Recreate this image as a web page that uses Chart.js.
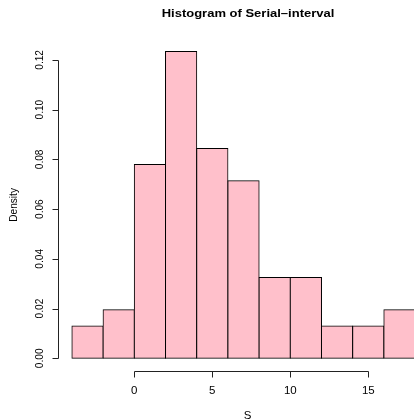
<!DOCTYPE html>
<html>
<head>
<meta charset="utf-8">
<script src="https://cdn.jsdelivr.net/npm/chart.js@4/dist/chart.umd.min.js"></script>
<style>
  html, body { margin: 0; padding: 0; background: #fff; overflow: hidden; width: 414px; height: 420px; }
  #wrap { width: 414px; height: 420px; overflow: hidden; position: relative; }
  canvas { display: block; }
</style>
</head>
<body>
<div id="wrap"><canvas id="c" width="440" height="420"></canvas></div>
<script>
// ---- data ----
const titleText = "Histogram of Serial\u2013interval";
const xLabel = "S";
const yLabel = "Density";
const binCenters = [-3, -1, 1, 3, 5, 7, 9, 11, 13, 15, 17];
const densities = [0.0130, 0.0195, 0.0779, 0.1234, 0.0844, 0.0714, 0.0325, 0.0325, 0.0130, 0.0130, 0.0195];
const xTicks = [0, 5, 10, 15];
const yTicks = [0, 0.02, 0.04, 0.06, 0.08, 0.10, 0.12];
const yTickLabels = ["0.00", "0.02", "0.04", "0.06", "0.08", "0.10", "0.12"];

const SY = 0.88; // slight vertical text squash seen in reference
const FONT = '"Liberation Sans", Arial, Helvetica, sans-serif';

function drawText(ctx, txt, x, y, font, rotate) {
  ctx.save();
  ctx.translate(x, y);
  ctx.scale(1, SY);
  if (rotate) ctx.rotate(-Math.PI / 2);
  ctx.font = font;
  ctx.fillStyle = '#000';
  ctx.textAlign = 'center';
  ctx.textBaseline = 'middle';
  ctx.fillText(txt, 0, 0);
  ctx.restore();
}

const rAxes = {
  id: 'rAxes',
  afterDraw(chart) {
    const ctx = chart.ctx;
    const xs = chart.scales.x, ys = chart.scales.y;
    const ca = chart.chartArea;
    ctx.save();
    ctx.strokeStyle = '#222';
    ctx.lineWidth = 1;
    // x axis
    const ax = Math.round(ca.bottom) + 0.5;
    const x0 = xs.getPixelForValue(xTicks[0]);
    const x1 = xs.getPixelForValue(xTicks[xTicks.length - 1]);
    ctx.beginPath();
    ctx.moveTo(Math.round(x0) + 0.5, ax);
    ctx.lineTo(Math.round(x1) + 0.5, ax);
    xTicks.forEach(v => {
      const px = Math.round(xs.getPixelForValue(v)) + 0.5;
      ctx.moveTo(px, ax);
      ctx.lineTo(px, ax + 6);
    });
    ctx.stroke();
    xTicks.forEach(v => {
      drawText(ctx, String(v), xs.getPixelForValue(v), 391, '11.5px ' + FONT, false);
    });
    // y axis
    const ay = Math.round(ca.left) + 0.5;
    const y0 = ys.getPixelForValue(yTicks[0]);
    const y1 = ys.getPixelForValue(yTicks[yTicks.length - 1]);
    ctx.beginPath();
    ctx.moveTo(ay, Math.round(y0) + 0.5);
    ctx.lineTo(ay, Math.round(y1) + 0.5);
    yTicks.forEach(v => {
      const py = Math.round(ys.getPixelForValue(v)) + 0.5;
      ctx.moveTo(ay, py);
      ctx.lineTo(ay - 6, py);
    });
    ctx.stroke();
    yTicks.forEach((v, i) => {
      drawText(ctx, yTickLabels[i], 40, ys.getPixelForValue(v), '11.5px ' + FONT, true);
    });
    // axis titles and main title
    drawText(ctx, xLabel, (ca.left + ca.right) / 2 + 4, 416, '11.5px ' + FONT, false);
    drawText(ctx, yLabel, 14, (ca.top + ca.bottom) / 2, '11.5px ' + FONT, true);
    drawText(ctx, titleText, 248, 14, 'bold 13px ' + FONT, false);
    ctx.restore();
  }
};

new Chart(document.getElementById('c'), {
  type: 'bar',
  data: {
    datasets: [{
      data: binCenters.map((c, i) => ({ x: c, y: densities[i] })),
      backgroundColor: '#FFC0CB',
      borderColor: '#000',
      borderWidth: 1,
      borderSkipped: false,
      inflateAmount: 0.5,
      barPercentage: 1,
      categoryPercentage: 1
    }]
  },
  options: {
    responsive: false,
    animation: false,
    events: [],
    layout: { padding: { left: 58.2, right: 11.2, top: 39.2, bottom: 49.4 } },
    plugins: { legend: { display: false }, title: { display: false }, tooltip: { enabled: false } },
    scales: {
      x: { type: 'linear', offset: false, min: -4.88, max: 18.88, display: false, grid: { offset: false } },
      y: { type: 'linear', min: -0.004935, max: 0.12831, display: false }
    }
  },
  plugins: [rAxes]
});
</script>
</body>
</html>
